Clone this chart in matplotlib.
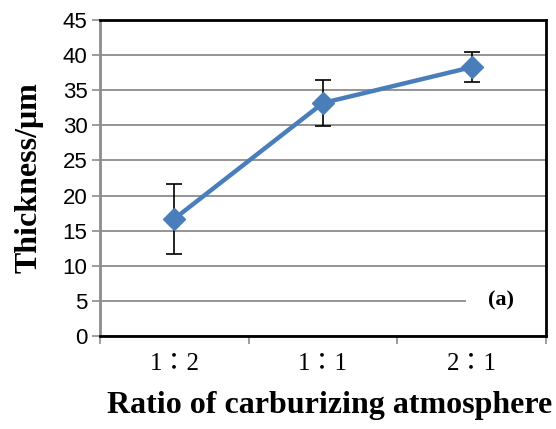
import matplotlib.pyplot as plt
from matplotlib.patches import Rectangle
import numpy as np

# data
ratios = ['1：2', '1：1', '2：1']
thickness = [16.7, 33.2, 38.3]
err = [5.0, 3.3, 2.1]

serif = ['Liberation Serif', 'Noto Sans CJK TC']

fig = plt.figure(figsize=(5.56, 4.29), dpi=100)
ax = fig.add_axes([0.180, 0.217, 0.802, 0.736])

x = np.arange(len(ratios))
ax.errorbar(x, thickness, yerr=err, color='#4A7EBB', lw=3.2, marker='D', ms=11,
            ecolor='black', elinewidth=1.2, capsize=6, capthick=1.2, zorder=3)

ax.set_xlim(-0.5, 2.5)
ax.set_ylim(0, 45)
ax.set_yticks(range(0, 46, 5))
ax.yaxis.grid(True, color='#8C8C8C', lw=1.3)
ax.set_axisbelow(True)

ax.set_xticks(x)
ax.set_xticklabels(ratios, family=serif, fontsize=18)
ax.set_xticks([-0.5, 0.5, 1.5, 2.5], minor=True)
ax.tick_params(axis='x', which='major', length=0, pad=12)
ax.tick_params(axis='x', which='minor', length=6, color='#8C8C8C', width=1.2)
ax.tick_params(axis='y', length=6, color='#8C8C8C', width=1.2, labelsize=16, pad=3)
for lab in ax.get_yticklabels():
    lab.set_family('Liberation Sans')

for side in ['top', 'right', 'bottom']:
    ax.spines[side].set_color('black')
    ax.spines[side].set_linewidth(2)
ax.spines['left'].set_color('#8C8C8C')
ax.spines['left'].set_linewidth(2)

ax.set_ylabel('Thickness/μm', family=serif, fontsize=23, fontweight='bold', labelpad=14)
ax.set_xlabel('Ratio of carburizing atmosphere', family=serif, fontsize=23,
              fontweight='bold', labelpad=12)
ax.xaxis.label.set_x(0.515)

# white label box covering the grid line
ax.add_patch(Rectangle((1.96, 2.8), 0.54, 4.4, facecolor='white', edgecolor='none', zorder=2))
ax.text(2.2, 5.0, '(a)', family=serif, fontsize=16, fontweight='bold',
        ha='center', va='center', zorder=4)

plt.savefig('out.png', dpi=100)
